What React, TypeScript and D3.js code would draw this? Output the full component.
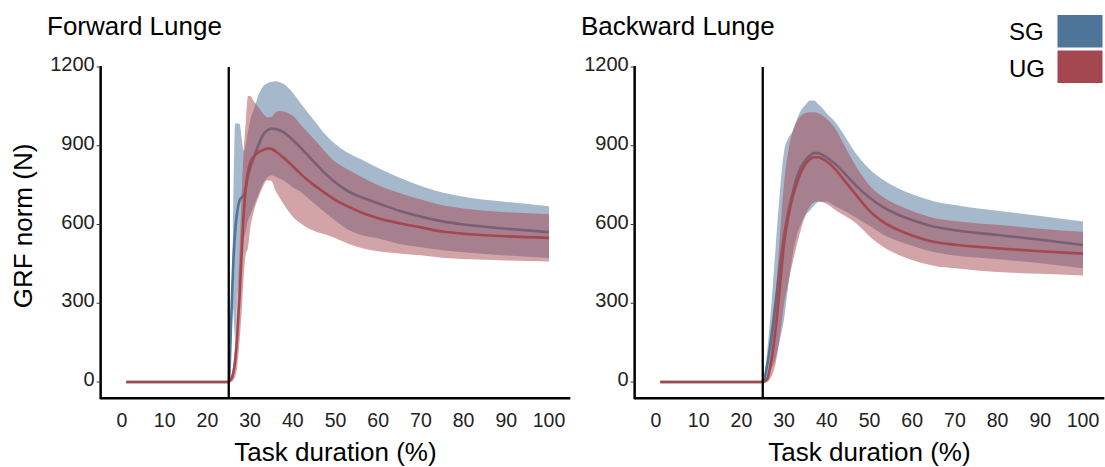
import * as d3 from "d3";

// % of task, mean and SD of the normalised GRF (N)
const fwdPct = [1, 25, 25.5, 26, 26.5, 27, 27.5, 28, 28.5, 29, 29.5, 30, 31, 32, 33, 34, 35, 36, 37, 38, 40, 42, 45, 48, 50, 53, 57, 60, 65, 70, 75, 80, 90, 100];
const fwdSgMean = [0, 0, 200, 430, 575, 650, 690, 703, 710, 740, 785, 815, 860, 905, 940, 958, 966, 964, 958, 950, 922, 890, 838, 788, 760, 726, 698, 681, 652, 630, 612, 600, 584, 571];
const fwdSgSd = [0, 0, 60, 150, 410, 335, 295, 230, 170, 165, 170, 180, 185, 190, 185, 180, 178, 182, 184, 184, 180, 168, 158, 148, 146, 146, 142, 134, 126, 117, 110, 106, 102, 99];
const fwdUgMean = [0, 0, 10, 30, 80, 180, 320, 480, 640, 740, 800, 835, 862, 876, 884, 889, 888, 878, 866, 852, 822, 790, 750, 715, 693, 668, 640, 624, 605, 589, 573, 565, 555, 549];
const fwdUgSd = [0, 0, 10, 25, 60, 120, 170, 220, 240, 250, 290, 255, 205, 170, 140, 120, 122, 150, 166, 178, 192, 187, 175, 155, 145, 141, 133, 126, 115, 106, 100, 96, 92, 90];

const bwdPct = [1, 25, 26, 27, 28, 29, 30, 31, 32, 33, 34, 35, 36, 37, 38, 39, 40, 42, 44, 46, 48, 50, 53, 57, 60, 65, 70, 75, 80, 90, 100];
const bwdSgMean = [0, 0, 60, 170, 300, 440, 560, 650, 719, 780, 820, 845, 862, 872, 872, 865, 855, 830, 798, 762, 730, 703, 668, 635, 617, 592, 578, 568, 560, 542, 522];
const bwdSgSd = [0, 0, 50, 120, 210, 280, 320, 280, 235, 220, 216, 210, 210, 200, 186, 178, 168, 160, 145, 128, 116, 108, 104, 100, 98, 97, 96, 94, 92, 90, 89];
const bwdUgMean = [0, 0, 10, 80, 200, 360, 528, 630, 705, 758, 800, 830, 848, 856, 856, 850, 840, 810, 770, 730, 690, 652, 612, 577, 558, 534, 523, 515, 509, 498, 489];
const bwdUgSd = [0, 0, 10, 60, 130, 190, 230, 250, 250, 235, 215, 195, 180, 172, 168, 165, 162, 155, 135, 115, 102, 97, 95, 94, 93, 91, 90, 90, 90, 86, 83];

const xTicks = [0, 10, 20, 30, 40, 50, 60, 70, 80, 90, 100];
const yTicks = [0, 300, 600, 900, 1200];
const groups = ["SG", "UG"];
const groupColors = ["#4E7499", "#A5474F"];

const FONT = "'Liberation Sans', Arial, Helvetica, sans-serif";

type Pt = { x: number; m: number; sd: number };

function toPoints(xs: number[], mean: number[], sd: number[]): Pt[] {
  return xs.map((x, i) => ({ x, m: mean[i], sd: sd[i] }));
}

function Panel({ dx, title, pct, series }: { dx: number; title: string; pct: number[]; series: [number[], number[]][] }) {
  const x = d3.scaleLinear().domain([0, 100]).range([122 + dx, 549 + dx]);
  const y = d3.scaleLinear().domain([0, 1200]).range([382, 67]);

  const band = d3.area<Pt>()
    .x(d => x(d.x))
    .y0(d => y(d.m - d.sd))
    .y1(d => y(d.m + d.sd))
    .curve(d3.curveMonotoneX);
  const line = d3.line<Pt>()
    .x(d => x(d.x))
    .y(d => y(d.m))
    .curve(d3.curveMonotoneX);

  const axisY = y(-62);

  return (
    <g>
      <text x={47 + dx} y={35} fontSize={26} fontFamily={FONT} fill="#000">{title}</text>

      {series.map(([mean, sd], i) => {
        const pts = toPoints(pct, mean, sd);
        return (
          <g key={groups[i]}>
            <path d={band(pts) ?? ""} fill={groupColors[i]} fillOpacity={0.5} />
            <path d={line(pts) ?? ""} fill="none" stroke={groupColors[i]} strokeWidth={2.6} />
          </g>
        );
      })}

      <line x1={x(25)} x2={x(25)} y1={y(1200)} y2={axisY} stroke="#000" strokeWidth={2.3} />

      {/* axes */}
      <line x1={x(-5)} x2={x(-5)} y1={y(1200) - 1} y2={axisY + 1} stroke="#000" strokeWidth={2.5} />
      <line x1={x(-5)} x2={x(105)} y1={axisY} y2={axisY} stroke="#000" strokeWidth={2.5} />
      {yTicks.map(t => (
        <g key={t}>
          <line x1={x(-5) - 4} x2={x(-5)} y1={y(t)} y2={y(t)} stroke="#333" strokeWidth={1} />
          <text x={x(-5) - 6} y={y(t) + 4} textAnchor="end" fontSize={20} fontFamily={FONT} fill="#222">{t}</text>
        </g>
      ))}
      {xTicks.map(t => (
        <text key={t} x={x(t)} y={427} textAnchor="middle" fontSize={19.5} fontFamily={FONT} fill="#222">{t}</text>
      ))}
      <text x={(x(-5) + x(105)) / 2} y={461} textAnchor="middle" fontSize={26} fontFamily={FONT} fill="#000">Task duration (%)</text>
    </g>
  );
}

export default function App() {
  return (
    <svg width={1105} height={467} style={{ position: "absolute", left: 0, top: 0, background: "#fff" }}>
      <rect width={1105} height={467} fill="#fff" />
      <text transform="translate(32,226) rotate(-90)" textAnchor="middle" fontSize={26} fontFamily={FONT} fill="#000">GRF norm (N)</text>
      <Panel dx={0} title="Forward Lunge" pct={fwdPct} series={[[fwdSgMean, fwdSgSd], [fwdUgMean, fwdUgSd]]} />
      <Panel dx={534} title="Backward Lunge" pct={bwdPct} series={[[bwdSgMean, bwdSgSd], [bwdUgMean, bwdUgSd]]} />

      {groups.map((g, i) => (
        <g key={g}>
          <text x={1009} y={40 + i * 36.5} fontSize={24} fontFamily={FONT} fill="#000">{g}</text>
          <rect x={1057.5} y={15 + i * 35.5} width={45} height={32.5} fill={groupColors[i]} />
        </g>
      ))}
    </svg>
  );
}
